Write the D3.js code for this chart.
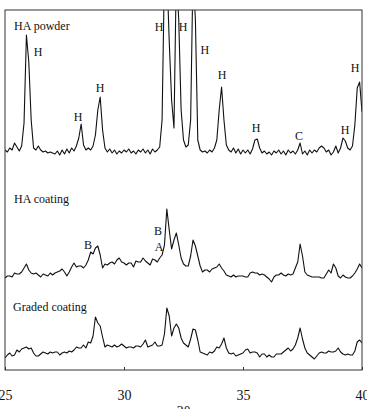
<html>
<head>
<meta charset="utf-8">
<script src="https://d3js.org/d3.v7.min.js"></script>
<style>
  body { margin: 0; background: #fff; }
  svg text { font-family: "Liberation Serif", "Times New Roman", serif; fill: #111; }
</style>
</head>
<body>
<svg id="chart"></svg>
<script>
// 2-theta sampling: 25.0 .. 40.0 every 0.1 deg
var thetaStart = 25, thetaStep = 0.1;
var xTicks = [25, 30, 35, 40];

// intensities (a.u., above each pattern's own baseline)
var powder = [12,10,14,12,19,15,11,16,39,127,100,42,14,12,16,12,10,11,9,10,
  9,8,11,7,12,8,13,9,14,11,16,24,38,17,12,14,12,16,27,52,
  65,32,14,10,13,9,12,8,11,9,12,10,13,9,11,8,12,10,13,9,
  12,8,13,10,12,15,42,192,192,121,62,34,192,142,52,22,15,17,42,192,
  142,22,12,10,11,9,12,10,14,22,52,75,42,17,12,10,14,9,13,8,
  12,9,12,8,13,22,23,14,9,11,8,10,7,11,9,12,8,11,7,12,
  9,11,8,12,19,8,11,7,12,9,12,10,14,16,14,10,12,7,10,16,
  9,14,24,21,14,12,16,37,74,80,50];
var haCoating = [4,6,6,5,9,8,8,10,14,18,12,9,8,9,7,5,8,7,6,9,
  7,9,10,11,13,10,6,10,15,19,15,16,16,14,17,22,30,28,34,36,
  27,14,18,17,19,20,18,22,24,20,19,17,19,19,15,21,20,20,24,21,
  19,17,23,22,20,24,27,37,73,52,33,42,49,37,24,18,16,16,26,42,
  36,26,16,10,12,12,10,13,14,15,18,14,11,7,6,5,7,5,6,6,
  6,5,5,9,10,9,9,7,8,7,5,3,0,5,7,7,9,7,6,8,
  7,8,14,20,38,26,10,7,6,5,5,5,5,4,4,8,12,9,18,14,
  6,4,7,5,4,4,6,9,13,18,14];
var graded = [4,7,9,6,7,12,10,13,14,15,13,14,9,6,6,8,10,9,8,10,
  9,10,10,7,9,10,9,11,10,12,15,14,14,17,14,20,19,26,45,39,
  36,25,15,17,16,15,17,15,16,18,16,14,15,15,14,16,16,15,18,22,
  15,16,17,20,16,16,17,28,54,46,26,34,38,34,24,19,17,15,23,33,
  32,22,10,9,8,7,10,9,11,15,14,18,24,14,9,8,9,6,7,8,
  9,12,13,9,10,10,9,5,8,8,5,7,5,5,8,8,8,10,12,14,
  11,13,17,24,34,23,14,9,7,5,3,6,9,10,9,9,11,10,10,11,
  14,10,8,7,8,7,7,11,20,22,19];

var seriesNames = ["HA powder", "HA coating", "Graded coating"];
var seriesOffsets = [208, 88, 8];   // vertical stacking of the patterns
var seriesValues = [powder, haCoating, graded];

// name labels [theta, level] per pattern
var nameTheta = [25.38, 25.38, 25.34];
var nameLevel = [132, 79, 51];

// phase marks: series index, letter, theta, level
var peakMarks = [
  [0, "H", 26.39, 106], [0, "H", 28.07, 41], [0, "H", 28.99, 70],
  [0, "H", 31.47, 131], [0, "H", 32.48, 131], [0, "H", 33.40, 108],
  [0, "H", 34.12, 83], [0, "H", 35.55, 30], [0, "C", 37.35, 22],
  [0, "H", 39.29, 28], [0, "H", 39.71, 90],
  [1, "B", 28.49, 33], [1, "B", 31.43, 47], [1, "A", 31.47, 31]
];

var W = 367, H = 409;
var padL = 5, padR = 362, padT = 10, padB = 370;

var svg = d3.select("#chart").attr("width", W).attr("height", H);

var x = d3.scaleLinear().domain([25, 40]).range([padL, padR]);
var y = d3.scaleLinear().domain([0, 360]).range([padB, padT]);

svg.append("clipPath").attr("id", "plotClip")
  .append("rect")
  .attr("x", padL).attr("y", padT)
  .attr("width", padR - padL).attr("height", padB - padT);

var line = d3.line()
  .x(function(d, i) { return x(thetaStart + i * thetaStep); })
  .y(function(d) { return y(d); });

var plot = svg.append("g").attr("clip-path", "url(#plotClip)");

seriesValues.forEach(function(vals, s) {
  var off = seriesOffsets[s];
  plot.append("path")
    .datum(vals.map(function(v) { return v + off; }))
    .attr("d", line)
    .attr("fill", "none")
    .attr("stroke", "#111")
    .attr("stroke-width", 1.1)
    .attr("stroke-linejoin", "round");

  svg.append("text")
    .attr("x", x(nameTheta[s]))
    .attr("y", y(nameLevel[s] + off))
    .attr("font-size", 12)
    .text(seriesNames[s]);
});

svg.selectAll(".mark").data(peakMarks).enter()
  .append("text")
  .attr("class", "mark")
  .attr("x", function(d) { return x(d[2]); })
  .attr("y", function(d) { return y(d[3] + seriesOffsets[d[0]]); })
  .attr("text-anchor", "middle")
  .attr("font-size", 12)
  .text(function(d) { return d[1]; });

// frame
svg.append("rect")
  .attr("x", padL).attr("y", padT)
  .attr("width", padR - padL).attr("height", padB - padT)
  .attr("fill", "none")
  .attr("stroke", "#333")
  .attr("stroke-width", 1);

// bottom axis, ticks pointing inward
var xAxis = d3.axisBottom(x).tickValues(xTicks).tickSizeInner(-3).tickSizeOuter(0).tickPadding(20);
var ax = svg.append("g").attr("transform", "translate(0," + padB + ")").call(xAxis);
ax.select(".domain").remove();
ax.selectAll("line").attr("stroke", "#333");
ax.selectAll("text")
  .attr("font-size", 14)
  .attr("font-family", "Liberation Serif, Times New Roman, serif")
  .attr("fill", "#111");

svg.append("text")
  .attr("x", x(32.5))
  .attr("y", 416)
  .attr("text-anchor", "middle")
  .attr("font-size", 14)
  .text("2θ");
</script>
</body>
</html>
